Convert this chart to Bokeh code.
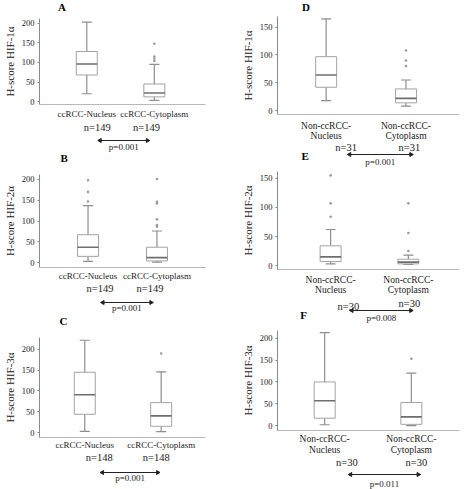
import math
from bokeh.plotting import figure
from bokeh.layouts import row, column
from bokeh.models import Range1d, FixedTicker, ColumnDataSource
from bokeh.core.properties import value
from bokeh.embed import file_html
from bokeh.resources import INLINE

FONT = "Liberation Serif"

# ---------------- data ----------------
cats_cc = ["ccRCC-Nucleus", "ccRCC-Cytoplasm"]
cats_non = ["Non-ccRCC-\nNucleus", "Non-ccRCC-\nCytoplasm"]

# five-number summaries: [low whisker, Q1, median, Q3, high whisker]
A_nucleus = [20, 68, 96, 128, 203]
A_cytoplasm = [3, 12, 22, 45, 95]
A_out_nucleus = []
A_out_cytoplasm = [104, 110, 115, 148]

B_nucleus = [3, 15, 37, 67, 137]
B_cytoplasm = [1, 4, 12, 37, 76]
B_out_nucleus = [147, 170, 198]
B_out_cytoplasm = [86, 90, 104, 142, 146, 201]

C_nucleus = [3, 44, 91, 145, 222]
C_cytoplasm = [2, 15, 40, 72, 146]
C_out_nucleus = []
C_out_cytoplasm = [190]

D_nucleus = [18, 42, 64, 97, 165]
D_cytoplasm = [8, 14, 22, 39, 55]
D_out_nucleus = []
D_out_cytoplasm = [80, 90, 108]

E_nucleus = [3, 7, 15, 34, 62]
E_cytoplasm = [2, 3, 6, 11, 18]
E_out_nucleus = [84, 107, 155]
E_out_cytoplasm = [25, 56, 107]

F_nucleus = [2, 17, 57, 100, 213]
F_cytoplasm = [0, 3, 20, 53, 120]
F_out_nucleus = []
F_out_cytoplasm = [153]

n_A = [149, 149]
n_B = [149, 149]
n_C = [148, 148]
n_D = [31, 31]
n_E = [30, 30]
n_F = [30, 30]

p_A = "p=0.001"
p_B = "p=0.001"
p_C = "p=0.001"
p_D = "p=0.001"
p_E = "p=0.008"
p_F = "p=0.011"

ylab_1 = "H-score HIF-1\u03b1"
ylab_2 = "H-score HIF-2\u03b1"
ylab_3 = "H-score HIF-3\u03b1"

ticks_200 = [0, 50, 100, 150, 200]
ticks_150 = [0, 50, 100, 150]

# ---------------- layout geometry (pixels in the page) ----------------
# main: (fig left, fig top, width, height); frame: (left, right, top, bottom)
GEOM = {
    "A": dict(main=(0, 13, 236, 108), frame=(33, 205, 18, 107), y0=104, yref=(200, 23),
              centers=(82, 152), standoff=4, lh=1.2),
    "B": dict(main=(0, 163, 236, 120), frame=(36, 207, 174, 269), y0=264, yref=(200, 179),
              centers=(86, 157), standoff=3, lh=1.2),
    "C": dict(main=(0, 326, 236, 126), frame=(37, 213, 337, 438), y0=433, yref=(200, 349),
              centers=(85, 166), standoff=2, lh=1.2),
    "D": dict(main=(236, 12, 236, 131), frame=(275, 462, 16, 117), y0=113, yref=(150, 27),
              centers=(325, 407), standoff=6, lh=1.0),
    "E": dict(main=(236, 167, 236, 131), frame=(274, 459, 171, 272), y0=268, yref=(150, 178),
              centers=(328, 407), standoff=5, lh=1.05),
    "F": dict(main=(236, 325, 236, 132), frame=(277, 466, 330, 433), y0=428, yref=(200, 338),
              centers=(326, 416), standoff=3, lh=1.1),
}
# strips holding n=, the p-value arrow and the next panel letter
STRIPS = {
    "hA": dict(box=(0, 0, 236, 13), ref="A", letters=[("A", 32, 6)]),
    "sA": dict(box=(0, 121, 236, 42), ref="A", n_y=(127, 127), arrow_y=140, p_y=146,
               letters=[("B", 35, 157)]),
    "sB": dict(box=(0, 283, 236, 43), ref="B", n_y=(288, 288), arrow_y=302, p_y=307,
               letters=[("C", 34, 320)]),
    "sC": dict(box=(0, 452, 236, 37), ref="C", n_y=(457, 457), arrow_y=472, p_y=477, letters=[]),
    "hD": dict(box=(236, 0, 236, 12), ref="D", letters=[("D", 273, 6)]),
    "sD": dict(box=(236, 143, 236, 24), ref="D", n_y=(147, 147), arrow_y=154, p_y=161,
               letters=[("E", 272, 155)]),
    "sE": dict(box=(236, 298, 236, 27), ref="E", n_y=(306, 303), arrow_y=310, p_y=317,
               letters=[("F", 270, 314)]),
    "sF": dict(box=(236, 457, 236, 32), ref="F", n_y=(462, 462), arrow_y=474, p_y=483, letters=[]),
}

BOX_W = 21
CAP_W = 10
BOX_LINE = "#a3a3a3"
WHISK_LINE = "#8e8e8e"
MED_LINE = "#6e6e6e"
TEXT = "#1a1a1a"
ARROW_C = "#222222"


def x_scale(g):
    FL, FR, FT, FB = g["frame"]
    c1, c2 = g["centers"]
    ppx = c2 - c1
    return 1 - (c1 - FL) / ppx, 2 + (FR - c2) / ppx, ppx


def make_main(cats, stats, outliers, ylabel, yticks, g, cat_size):
    fx, fy, W, H = g["main"]
    FL, FR, FT, FB = g["frame"]
    yv, ypx = g["yref"]
    ppu = (g["y0"] - ypx) / yv
    x_start, x_end, ppx = x_scale(g)
    p = figure(width=W, height=H, output_backend="svg", toolbar_location=None, title=None,
               x_range=Range1d(x_start, x_end),
               y_range=Range1d(-(FB - g["y0"]) / ppu, (g["y0"] - FT) / ppu),
               min_border_left=FL - fx, min_border_right=fx + W - FR,
               min_border_top=FT - fy, min_border_bottom=fy + H - FB)
    p.outline_line_color = None
    p.xgrid.visible = False
    p.ygrid.visible = False
    p.background_fill_color = "white"
    p.border_fill_color = "white"

    xs = [1, 2]
    lo = [s[0] for s in stats]
    q1 = [s[1] for s in stats]
    med = [s[2] for s in stats]
    q3 = [s[3] for s in stats]
    hi = [s[4] for s in stats]
    src = ColumnDataSource(dict(x=xs, lo=lo, q1=q1, med=med, q3=q3, hi=hi,
                                mid=[(a + b) / 2 for a, b in zip(q1, q3)],
                                h=[b - a for a, b in zip(q1, q3)]))
    p.segment(x0="x", y0="q3", x1="x", y1="hi", source=src, line_color=WHISK_LINE, line_width=1.2)
    p.segment(x0="x", y0="lo", x1="x", y1="q1", source=src, line_color=WHISK_LINE, line_width=1.2)
    p.scatter(x="x", y="hi", source=src, marker="dash", size=CAP_W, line_color=WHISK_LINE, line_width=1.2)
    p.scatter(x="x", y="lo", source=src, marker="dash", size=CAP_W, line_color=WHISK_LINE, line_width=1.2)
    p.rect(x="x", y="mid", width=BOX_W, height="h", width_units="screen", source=src,
           fill_color="white", line_color=BOX_LINE, line_width=1)
    p.scatter(x="x", y="med", source=src, marker="dash", size=BOX_W, line_color=MED_LINE, line_width=1.6)

    ox, oy = [], []
    for i, outl in enumerate(outliers):
        ox += [xs[i]] * len(outl)
        oy += list(outl)
    p.scatter(ox, oy, marker="circle", size=2.6, fill_color="#9a9a9a", line_color=None)

    ya = p.yaxis[0]
    ya.ticker = FixedTicker(ticks=yticks)
    ya.minor_tick_line_color = None
    ya.major_tick_in = 0
    ya.major_tick_out = 2
    ya.major_tick_line_color = "#8a8a8a"
    ya.axis_line_color = "#8a8a8a"
    ya.major_label_standoff = 3
    ya.major_label_text_font = FONT
    ya.major_label_text_font_size = "8.5px"
    ya.major_label_text_color = TEXT
    ya.axis_label = ylabel
    ya.axis_label_text_font = FONT
    ya.axis_label_text_font_size = "11px"
    ya.axis_label_text_font_style = "normal"
    ya.axis_label_text_color = TEXT
    ya.axis_label_standoff = 3

    xa = p.xaxis[0]
    xa.ticker = FixedTicker(ticks=xs)
    xa.major_label_overrides = {1: cats[0], 2: cats[1]}
    xa.minor_tick_line_color = None
    xa.major_tick_line_color = None
    xa.major_tick_in = 0
    xa.major_tick_out = 0
    xa.axis_line_color = "#b8b8b8"
    xa.major_label_standoff = g["standoff"]
    xa.major_label_text_font = FONT
    xa.major_label_text_font_size = cat_size
    xa.major_label_text_line_height = g["lh"]
    xa.major_label_text_color = TEXT
    return p


def make_strip(s, n_vals=None, p_text=None):
    fx, fy, W, H = s["box"]
    g = GEOM[s["ref"]]
    FL, FR, FT, FB = g["frame"]
    x_start, x_end, ppx = x_scale(g)
    xs0 = x_start - (FL - fx) / ppx
    xs1 = x_end + (fx + W - FR) / ppx
    # x in category units (same mapping as the panel above), y in page pixel rows
    p = figure(width=W, height=H, output_backend="svg", toolbar_location=None, title=None,
               x_range=Range1d(xs0, xs1), y_range=Range1d(fy + H, fy),
               x_axis_type=None, y_axis_type=None, min_border=0)
    p.outline_line_color = None
    p.xgrid.visible = False
    p.ygrid.visible = False
    p.background_fill_color = "white"
    p.border_fill_color = "white"

    if n_vals is not None:
        p.text(x=[1, 2], y=list(s["n_y"]), text=[f"n={n}" for n in n_vals],
               text_font=value(FONT), text_font_size=value("10.5px"),
               text_align="center", text_baseline="middle", text_color=TEXT)
        a0, a1 = 1.03, 2.05
        ay = s["arrow_y"]
        p.segment(x0=[a0], y0=[ay], x1=[a1], y1=[ay], line_color=ARROW_C, line_width=1)
        hw = 2.0 / ppx
        p.scatter(x=[a0 + hw, a1 - hw], y=[ay, ay], marker="triangle", size=4,
                  angle=[math.pi / 2, -math.pi / 2], fill_color=ARROW_C, line_color=ARROW_C)
        p.text(x=[(a0 + a1) / 2], y=[s["p_y"]], text=[p_text],
               text_font=value(FONT), text_font_size=value("9px"),
               text_align="center", text_baseline="middle", text_color=TEXT)

    if s["letters"]:
        p.text(x=[xs0 + (X - fx) / ppx for _, X, _ in s["letters"]],
               y=[Y for _, _, Y in s["letters"]],
               text=[t for t, _, _ in s["letters"]],
               text_font=value(FONT), text_font_size=value("11px"), text_font_style="bold",
               text_align="center", text_baseline="middle", text_color="#000000")
    return p


pA = make_main(cats_cc, [A_nucleus, A_cytoplasm], [A_out_nucleus, A_out_cytoplasm], ylab_1, ticks_200, GEOM["A"], "9px")
pB = make_main(cats_cc, [B_nucleus, B_cytoplasm], [B_out_nucleus, B_out_cytoplasm], ylab_2, ticks_200, GEOM["B"], "9px")
pC = make_main(cats_cc, [C_nucleus, C_cytoplasm], [C_out_nucleus, C_out_cytoplasm], ylab_3, ticks_200, GEOM["C"], "9px")
pD = make_main(cats_non, [D_nucleus, D_cytoplasm], [D_out_nucleus, D_out_cytoplasm], ylab_1, ticks_150, GEOM["D"], "9.5px")
pE = make_main(cats_non, [E_nucleus, E_cytoplasm], [E_out_nucleus, E_out_cytoplasm], ylab_2, ticks_150, GEOM["E"], "9.5px")
pF = make_main(cats_non, [F_nucleus, F_cytoplasm], [F_out_nucleus, F_out_cytoplasm], ylab_3, ticks_200, GEOM["F"], "9.5px")

hA = make_strip(STRIPS["hA"])
sA = make_strip(STRIPS["sA"], n_A, p_A)
sB = make_strip(STRIPS["sB"], n_B, p_B)
sC = make_strip(STRIPS["sC"], n_C, p_C)
hD = make_strip(STRIPS["hD"])
sD = make_strip(STRIPS["sD"], n_D, p_D)
sE = make_strip(STRIPS["sE"], n_E, p_E)
sF = make_strip(STRIPS["sF"], n_F, p_F)

root = row(column(hA, pA, sA, pB, sB, pC, sC), column(hD, pD, sD, pE, sE, pF, sF))

open("out.html", "w").write(file_html(root, INLINE))
